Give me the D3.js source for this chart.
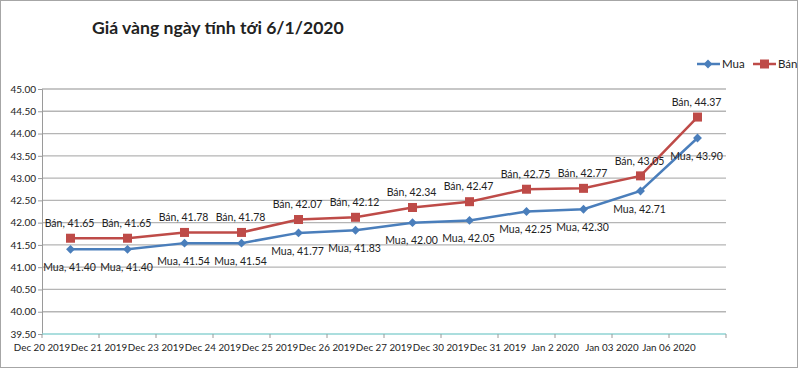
<!DOCTYPE html>
<html>
<head>
<meta charset="utf-8">
<script src="https://cdn.jsdelivr.net/npm/d3@7"></script>
<style>
  body { margin: 0; background: #fff; }
  text { font-family: Lato, "Open Sans", sans-serif; fill: #222; }
</style>
</head>
<body>
<div id="chart"></div>
<script>
const categories = ["Dec 20 2019", "Dec 21 2019", "Dec 23 2019", "Dec 24 2019", "Dec 25 2019",
  "Dec 26 2019", "Dec 27 2019", "Dec 30 2019", "Dec 31 2019", "Jan 2 2020", "Jan 03 2020", "Jan 06 2020"];
const mua = [41.40, 41.40, 41.54, 41.54, 41.77, 41.83, 42.00, 42.05, 42.25, 42.30, 42.71, 43.90];
const ban = [41.65, 41.65, 41.78, 41.78, 42.07, 42.12, 42.34, 42.47, 42.75, 42.77, 43.05, 44.37];
const yTicks = [39.5, 40, 40.5, 41, 41.5, 42, 42.5, 43, 43.5, 44, 44.5, 45];

const config = { width: 800, height: 370, left: 42, right: 74, top: 89, bottom: 36 };

const svg = d3.select("#chart").append("svg")
  .attr("width", config.width)
  .attr("height", config.height);

// frame
svg.append("rect")
  .attr("x", 0.5).attr("y", 0.5)
  .attr("width", 797).attr("height", 367)
  .attr("fill", "none").attr("stroke", "#a6a6a6");

const x = d3.scaleBand()
  .domain(categories)
  .range([config.left, config.width - config.right]);

const y = d3.scaleLinear()
  .domain([39.5, 45])
  .range([config.height - config.bottom, config.top]);

// gridlines
svg.append("g")
  .selectAll("line")
  .data(yTicks.slice(1))
  .join("line")
  .attr("x1", config.left).attr("x2", config.width - config.right)
  .attr("y1", d => y(d)).attr("y2", d => y(d))
  .attr("stroke", "#b5b5b5").attr("stroke-width", 1.3);

// y axis
const yAxis = svg.append("g")
  .attr("transform", `translate(${config.left},0)`)
  .call(d3.axisLeft(y).tickValues(yTicks).tickFormat(d3.format(".2f")).tickSize(4).tickPadding(2));
yAxis.select(".domain").attr("stroke", "#9a9a9a");
yAxis.selectAll(".tick line").attr("stroke", "#9a9a9a");
yAxis.selectAll(".tick text").attr("font-size", 10).attr("fill", "#333")
  .style("font-family", "Lato, sans-serif");

// x axis: ticks at band edges, labels under left edge of each band
const xAxisG = svg.append("g")
  .attr("transform", `translate(0,${y(39.5)})`);
xAxisG.append("line")
  .attr("x1", config.left).attr("x2", config.width - config.right)
  .attr("stroke", "#8fd3d3").attr("stroke-width", 1.3);
xAxisG.selectAll(".xtick")
  .data(categories.concat(["end"]))
  .join("line")
  .attr("class", "xtick")
  .attr("x1", (d, i) => config.left + i * x.step())
  .attr("x2", (d, i) => config.left + i * x.step())
  .attr("y1", 0).attr("y2", 4)
  .attr("stroke", "#9a9a9a");
xAxisG.selectAll(".xlabel")
  .data(categories)
  .join("text")
  .attr("class", "xlabel")
  .attr("x", d => x(d))
  .attr("y", 17)
  .attr("text-anchor", "middle")
  .attr("font-size", 9.8)
  .text(d => d);

const line = d3.line()
  .x((d, i) => x(categories[i]) + x.bandwidth() / 2)
  .y(d => y(d));

const blue = "#4a7ebb", red = "#be4b48";

svg.append("path").datum(ban)
  .attr("d", line).attr("fill", "none")
  .attr("stroke", red).attr("stroke-width", 2.5);
svg.append("path").datum(mua)
  .attr("d", line).attr("fill", "none")
  .attr("stroke", blue).attr("stroke-width", 2.5);

// markers
svg.append("g").selectAll("rect")
  .data(ban)
  .join("rect")
  .attr("x", (d, i) => x(categories[i]) + x.bandwidth() / 2 - 4.5)
  .attr("y", d => y(d) - 4.5)
  .attr("width", 9).attr("height", 9)
  .attr("fill", red);

const diamond = d3.symbol().type(d3.symbolDiamond2).size(50);
svg.append("g").selectAll("path")
  .data(mua)
  .join("path")
  .attr("d", diamond)
  .attr("transform", (d, i) => `translate(${x(categories[i]) + x.bandwidth() / 2},${y(d)})`)
  .attr("fill", blue);

// data labels
svg.append("g").selectAll("text")
  .data(ban)
  .join("text")
  .attr("x", (d, i) => x(categories[i]) + x.bandwidth() / 2 - 1)
  .attr("y", d => y(d) - 15)
  .attr("dy", "0.35em")
  .attr("text-anchor", "middle")
  .attr("font-size", 10.5)
  .text(d => "Bán, " + d.toFixed(2));

svg.append("g").selectAll("text")
  .data(mua)
  .join("text")
  .attr("x", (d, i) => x(categories[i]) + x.bandwidth() / 2 - 1)
  .attr("y", d => y(d) + 18)
  .attr("dy", "0.35em")
  .attr("text-anchor", "middle")
  .attr("font-size", 10.5)
  .text(d => "Mua, " + d.toFixed(2));

// title
svg.append("text")
  .attr("x", 92).attr("y", 34)
  .attr("font-size", 17.6).attr("font-weight", "bold")
  .attr("fill", "#111")
  .text("Giá vàng ngày tính tới 6/1/2020");

// legend
const legend = svg.append("g").attr("transform", "translate(0,64)");
legend.append("line").attr("x1", 697).attr("x2", 720).attr("stroke", blue).attr("stroke-width", 2.5);
legend.append("path").attr("d", diamond).attr("transform", "translate(708,0)").attr("fill", blue);
legend.append("text").attr("x", 722).attr("dy", "0.35em").attr("font-size", 11.5).text("Mua");
legend.append("line").attr("x1", 753).attr("x2", 776).attr("stroke", red).attr("stroke-width", 2.5);
legend.append("rect").attr("x", 760).attr("y", -4.5).attr("width", 9).attr("height", 9).attr("fill", red);
legend.append("text").attr("x", 778).attr("dy", "0.35em").attr("font-size", 11.5).text("Bán");
</script>
</body>
</html>
